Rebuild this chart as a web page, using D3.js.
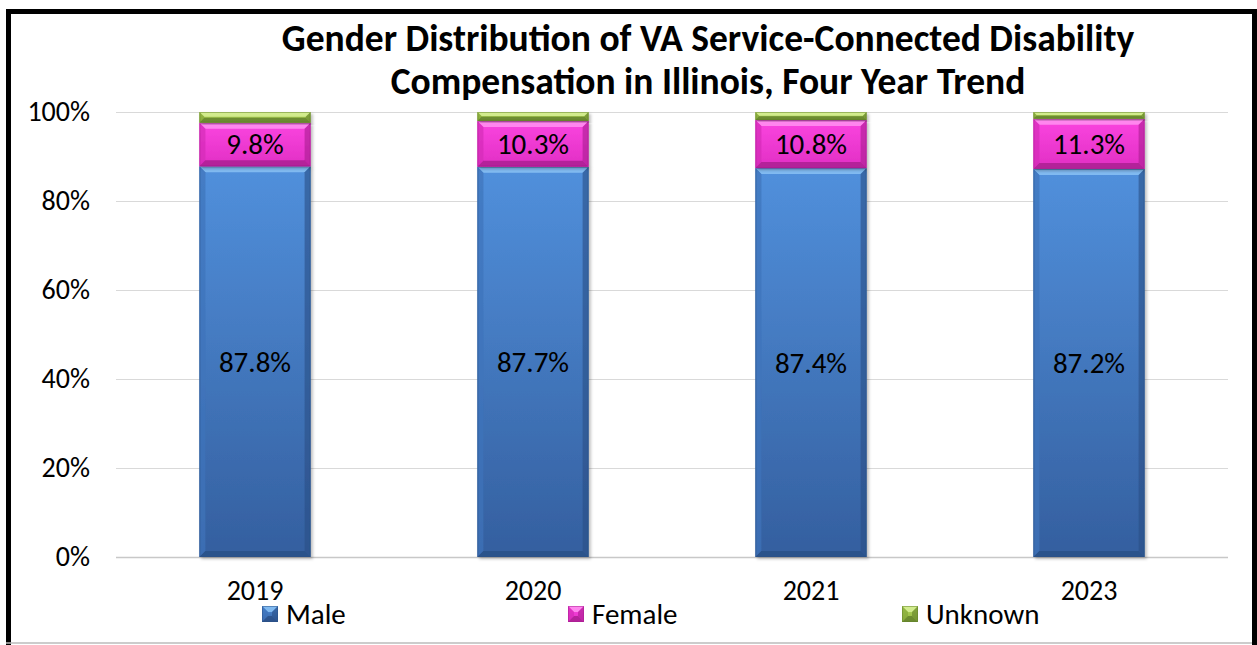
<!DOCTYPE html>
<html>
<head>
<meta charset="utf-8">
<script src="https://cdn.jsdelivr.net/npm/d3@7"></script>
<style>
  html, body { margin: 0; padding: 0; background: #fff; }
  svg { display: block; }
  text { font-family: Carlito, Calibri, Lato, "Open Sans", sans-serif; fill: #000; }
</style>
</head>
<body>
<svg id="chart" width="1257" height="645"></svg>
<script>
// ---- data ----
const categories = ["2019", "2020", "2021", "2023"];
const maleValues = [87.8, 87.7, 87.4, 87.2];
const femaleValues = [9.8, 10.3, 10.8, 11.3];
const unknownValues = [2.4, 2.0, 1.8, 1.5];
const seriesNames = ["Male", "Female", "Unknown"];
const yTicks = [0, 20, 40, 60, 80, 100];
const titleLines = ["Gender Distribution of VA Service-Connected Disability",
                    "Compensation in Illinois, Four Year Trend"];

// ---- layout ----
const W = 1257, H = 645;
const plot = { left: 116, right: 1228, top: 112, bottom: 557 };
const svg = d3.select("#chart");

const colors = {
  Male:    { top: "#5190dc", bottom: "#345f9f", light: "#86bff3", dark: "#2a4f86", side: "#3f74bb" },
  Female:  { top: "#fb45e0", bottom: "#e12fc4", light: "#ff8ef0", dark: "#a81e8f", side: "#d42bb8" },
  Unknown: { top: "#b4d85e", bottom: "#8fb23e", light: "#d6ee94", dark: "#62802a", side: "#86a83a" }
};

// frame
svg.append("rect").attr("x", 0).attr("y", 0).attr("width", W).attr("height", H).attr("fill", "#fff");
svg.append("path")
  .attr("d", `M8.5,${H+5} V11.5 H1254.5 V${H+5}`)
  .attr("fill", "none").attr("stroke", "#000").attr("stroke-width", 5);
svg.append("line").attr("x1", 6).attr("x2", 1252).attr("y1", 643).attr("y2", 643)
  .attr("stroke", "#bbb").attr("stroke-width", 1.5);

// scales
const x = d3.scaleBand().domain(categories).range([plot.left, plot.right])
  .paddingInner(0.6).paddingOuter(0.3);
const y = d3.scaleLinear().domain([0, 100]).range([plot.bottom, plot.top]);

// gridlines
svg.append("g").selectAll("line").data(yTicks).join("line")
  .attr("x1", plot.left).attr("x2", plot.right)
  .attr("y1", d => Math.round(y(d)) + 0.5).attr("y2", d => Math.round(y(d)) + 0.5)
  .attr("stroke", d => d === 0 ? "#c8c8c8" : "#d9d9d9").attr("stroke-width", d => d === 0 ? 1.5 : 1);

// y axis labels via d3 axis
const yAxis = d3.axisLeft(y).tickValues(yTicks).tickFormat(d => d + "%").tickSize(0).tickPadding(0);
const yg = svg.append("g").attr("transform", `translate(90,0)`).call(yAxis);
yg.select(".domain").remove();
yg.selectAll("text").style("font-size", "28px").attr("font-family", null).attr("fill", "#000");

// x axis labels
const xAxis = d3.axisBottom(x).tickSize(0).tickPadding(0);
const xg = svg.append("g").attr("transform", `translate(0,580)`).call(xAxis);
xg.select(".domain").remove();
xg.selectAll("text").style("font-size", "28px").attr("font-family", null).attr("fill", "#000");

// gradients
const defs = svg.append("defs");
seriesNames.forEach(s => {
  const g = defs.append("linearGradient").attr("id", "grad-" + s)
    .attr("x1", 0).attr("y1", 0).attr("x2", 0).attr("y2", 1);
  g.append("stop").attr("offset", "0%").attr("stop-color", colors[s].top);
  g.append("stop").attr("offset", "100%").attr("stop-color", colors[s].bottom);
});
defs.append("filter").attr("id", "shadow").attr("x", "-10%").attr("y", "-10%").attr("width", "130%").attr("height", "130%")
  .html('<feDropShadow dx="2" dy="2" stdDeviation="1.5" flood-color="#000" flood-opacity="0.25"/>');

// stacked data
const rows = categories.map((c, i) => ({ cat: c, Male: maleValues[i], Female: femaleValues[i], Unknown: unknownValues[i] }));
const stack = d3.stack().keys(seriesNames)(rows);

const bw = x.bandwidth();
function bevelSeg(g, x0, y0, w, h, s) {
  const b = Math.min(6, h / 2.2);
  const c = colors[s];
  g.append("rect").attr("x", x0).attr("y", y0).attr("width", w).attr("height", h)
    .attr("fill", "url(#grad-" + s + ")");
  g.append("polygon").attr("points", [[x0, y0], [x0 + w, y0], [x0 + w - b, y0 + b], [x0 + b, y0 + b]].join(" "))
    .attr("fill", c.light).attr("opacity", 0.9);
  g.append("polygon").attr("points", [[x0, y0], [x0 + b, y0 + b], [x0 + b, y0 + h - b], [x0, y0 + h]].join(" "))
    .attr("fill", c.side).attr("opacity", 0.7);
  g.append("polygon").attr("points", [[x0 + w, y0], [x0 + w - b, y0 + b], [x0 + w - b, y0 + h - b], [x0 + w, y0 + h]].join(" "))
    .attr("fill", c.dark).attr("opacity", 0.6);
  g.append("polygon").attr("points", [[x0, y0 + h], [x0 + b, y0 + h - b], [x0 + w - b, y0 + h - b], [x0 + w, y0 + h]].join(" "))
    .attr("fill", c.dark).attr("opacity", 0.8);
  g.append("rect").attr("x", x0 + 0.5).attr("y", y0 + 0.5).attr("width", w - 1).attr("height", h - 1)
    .attr("fill", "none").attr("stroke", c.dark).attr("stroke-opacity", 0.5).attr("stroke-width", 1);
}

const barsG = svg.append("g");
stack.forEach(layer => {
  const s = layer.key;
  layer.forEach(d => {
    const x0 = x(d.data.cat);
    const y0 = y(d[1]), y1 = y(d[0]);
    const g = barsG.append("g").attr("filter", "url(#shadow)");
    bevelSeg(g, x0, y0, bw, y1 - y0, s);
  });
});

// labels
const labelG = svg.append("g");
["Male", "Female"].forEach(s => {
  const layer = stack.find(l => l.key === s);
  layer.forEach(d => {
    labelG.append("text")
      .attr("x", x(d.data.cat) + bw / 2)
      .attr("y", (y(d[0]) + y(d[1])) / 2)
      .attr("text-anchor", "middle").attr("dominant-baseline", "central")
      .style("font-size", "29px")
      .text(d.data[s].toFixed(1) + "%");
  });
});

// title
svg.append("g").selectAll("text").data(titleLines).join("text")
  .attr("x", 708).attr("y", (d, i) => 51 + i * 43)
  .attr("text-anchor", "middle")
  .style("font-size", "37.5px").style("font-weight", "bold")
  .text(d => d);

// legend
const legendX = [262, 568, 902];
const lg = svg.append("g").selectAll("g").data(seriesNames).join("g")
  .attr("transform", (d, i) => `translate(${legendX[i]},606)`);
lg.each(function(s) {
  bevelSeg(d3.select(this), 0, 0, 16, 16, s);
});
lg.append("text").attr("x", 24).attr("y", 8).attr("dominant-baseline", "central")
  .style("font-size", "29px").text(d => d);
</script>
</body>
</html>
